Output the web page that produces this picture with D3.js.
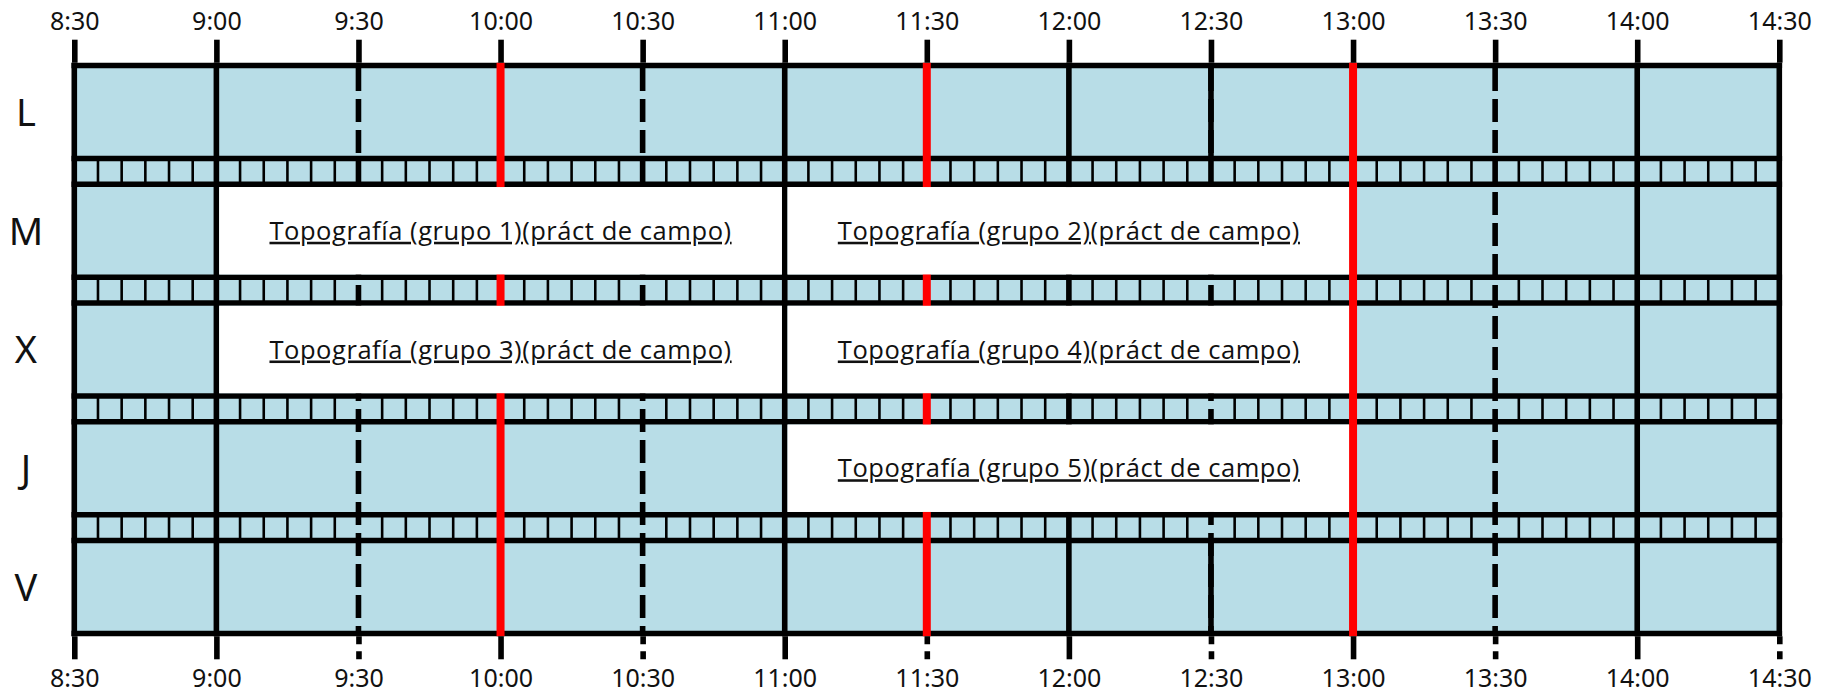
<!DOCTYPE html>
<html><head><meta charset="utf-8">
<script src="https://cdn.jsdelivr.net/npm/d3@7"></script>
<style>html,body{margin:0;padding:0;background:#fff;} svg{display:block}</style>
</head><body>
<svg id="chart" width="1821" height="696"></svg>
<script>
// ---------- data ----------
const days = ["L", "M", "X", "J", "V"];
const tickLabels = ["8:30","9:00","9:30","10:00","10:30","11:00","11:30","12:00","12:30","13:00","13:30","14:00","14:30"];
const redLineTimes = ["10:00", "11:30", "13:00"];
const sessionDays = ["M", "M", "X", "X", "J"];
const sessionStarts = ["9:00", "11:00", "9:00", "11:00", "11:00"];
const sessionEnds = ["11:00", "13:00", "11:00", "13:00", "13:00"];
const sessionTitles = [
  "Topografía (grupo 1)(práct de campo)",
  "Topografía (grupo 2)(práct de campo)",
  "Topografía (grupo 3)(práct de campo)",
  "Topografía (grupo 4)(práct de campo)",
  "Topografía (grupo 5)(práct de campo)"
];
const solidHalfHourTimes = ["12:30", "12:30"];
const solidHalfHourDays = ["L", "V"];
const slotMinutes = 5;

// ---------- setup ----------
const toMin = s => { const [h, m] = s.split(":").map(Number); return h * 60 + m; };
const tickMins = tickLabels.map(toMin);
const tMin = tickMins[0], tMax = tickMins[tickMins.length - 1];

const LW = 5.6, RED_W = 8, DIV_W = 2.6;
const BLUE = "#b8dde7";

const svg = d3.select("#chart");
const x = d3.scaleLinear().domain([tMin, tMax]).range([74.3, 1779.3]);
const y = d3.scaleBand().domain(days).range([65.5, 633.5]).paddingInner(0.2168).paddingOuter(0);
const bw = y.bandwidth();
const yTop = y.range()[0], yBottom = y.range()[1];

// background
svg.append("rect")
  .attr("x", x(tMin)).attr("y", yTop)
  .attr("width", x(tMax) - x(tMin)).attr("height", yBottom - yTop)
  .attr("fill", BLUE);

// strips between rows with 5-minute dividers
const strips = days.slice(0, -1).map((d, i) => ({ y0: y(d) + bw, y1: y(days[i + 1]) }));
const slotMins = d3.range(tMin, tMax + 1, slotMinutes).filter(m => m % 30 !== 0);
strips.forEach(s => {
  svg.append("g").selectAll("line").data(slotMins).join("line")
    .attr("x1", d => x(d)).attr("x2", d => x(d))
    .attr("y1", s.y0).attr("y2", s.y1)
    .attr("stroke", "#000").attr("stroke-width", DIV_W);
});

// vertical grid lines
const inner = tickMins.filter(m => m !== tMin && m !== tMax);
const hourLines = [tMin, tMax].concat(inner.filter(m => m % 60 === 0));
const halfLines = inner.filter(m => m % 60 === 30);
svg.append("g").selectAll("line").data(hourLines).join("line")
  .attr("x1", d => x(d)).attr("x2", d => x(d))
  .attr("y1", yTop - LW / 2).attr("y2", yBottom + LW / 2)
  .attr("stroke", "#000").attr("stroke-width", LW);
svg.append("g").selectAll("line").data(halfLines).join("line")
  .attr("x1", d => x(d)).attr("x2", d => x(d))
  .attr("y1", yTop).attr("y2", yBottom)
  .attr("stroke", "#000").attr("stroke-width", LW)
  .attr("stroke-dasharray", "23,8").attr("stroke-dashoffset", 28.5);
// solid segments on some half-hour lines
svg.append("g").selectAll("line").data(solidHalfHourTimes.map((t, i) => ({ t: toMin(t), d: solidHalfHourDays[i] }))).join("line")
  .attr("x1", d => x(d.t)).attr("x2", d => x(d.t))
  .attr("y1", d => y(d.d)).attr("y2", d => y(d.d) + bw)
  .attr("stroke", "#000").attr("stroke-width", LW);

// horizontal borders
const hLines = [];
days.forEach(d => { hLines.push(y(d)); hLines.push(y(d) + bw); });
svg.append("g").selectAll("line").data(hLines).join("line")
  .attr("x1", x(tMin) - LW / 2).attr("x2", x(tMax) + LW / 2)
  .attr("y1", d => d).attr("y2", d => d)
  .attr("stroke", "#000").attr("stroke-width", LW);

// red lines
svg.append("g").selectAll("line").data(redLineTimes.map(toMin)).join("line")
  .attr("x1", d => x(d)).attr("x2", d => x(d))
  .attr("y1", yTop - LW / 2).attr("y2", yBottom + LW / 2)
  .attr("stroke", "#ff0000").attr("stroke-width", RED_W);

// sessions (white boxes)
const redSet = new Set(redLineTimes.map(toMin));
const halfW = m => (redSet.has(m) ? RED_W : LW) / 2;
const sessions = sessionDays.map((d, i) => ({
  day: d, s: toMin(sessionStarts[i]), e: toMin(sessionEnds[i]), title: sessionTitles[i]
}));
const sg = svg.append("g").selectAll("g").data(sessions).join("g");
sg.append("rect")
  .attr("x", d => x(d.s) + halfW(d.s))
  .attr("y", d => y(d.day) + LW / 2)
  .attr("width", d => x(d.e) - halfW(d.e) - x(d.s) - halfW(d.s))
  .attr("height", bw - LW)
  .attr("fill", "#fff");
sg.append("text")
  .attr("x", d => (x(d.s) + x(d.e)) / 2)
  .attr("y", d => y(d.day) + bw / 2 + 9)
  .attr("text-anchor", "middle")
  .attr("font-family", "'Open Sans', 'Noto Sans', sans-serif")
  .attr("font-size", 25.5)
  .attr("letter-spacing", 0.55)
  .attr("fill", "#111")
  .style("text-decoration", "underline")
  .text(d => d.title);

// row labels
svg.append("g").selectAll("text").data(days).join("text")
  .attr("x", 26).attr("y", d => y(d) + bw / 2 + 13.8)
  .attr("text-anchor", "middle")
  .attr("font-family", "'Noto Sans', sans-serif")
  .attr("font-size", 38).attr("fill", "#111")
  .text(d => d);

// axes
const fmt = d => tickLabels[tickMins.indexOf(d)];
const axT = svg.append("g").attr("transform", `translate(0,${yTop - LW / 2})`)
  .call(d3.axisTop(x).tickValues(tickMins).tickFormat(fmt).tickSize(23).tickPadding(9.5));
const axB = svg.append("g").attr("transform", `translate(0,${yBottom + LW / 2})`)
  .call(d3.axisBottom(x).tickValues(tickMins).tickFormat(fmt).tickSize(23).tickPadding(10));
[axT, axB].forEach(g => {
  g.select(".domain").remove();
  g.attr("font-family", "'Noto Sans', sans-serif").attr("font-size", 25);
  g.selectAll(".tick line").attr("stroke", "#000").attr("stroke-width", LW);
  g.selectAll(".tick text").attr("fill", "#111");
});
axB.selectAll(".tick line")
  .attr("stroke-dasharray", d => (d % 60 === 30 && d !== tMin) ? "8,7" : null);
</script>
</body></html>
